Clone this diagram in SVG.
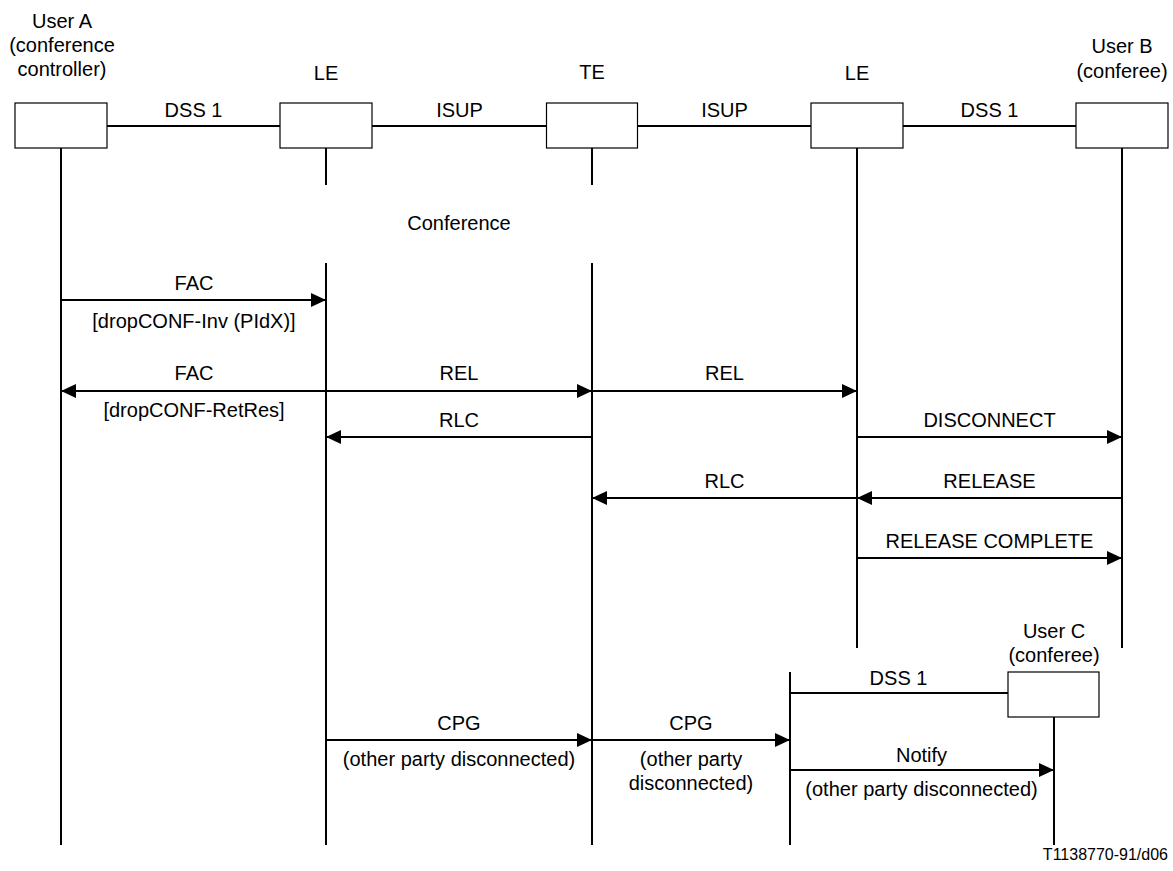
<svg xmlns="http://www.w3.org/2000/svg" width="1173" height="871" viewBox="0 0 1173 871">
<style>
text{font-family:"Liberation Sans",Arial,sans-serif;font-size:20px;fill:#000;text-anchor:middle}
.box{fill:#fff;stroke:#000;stroke-width:1.2}
.ln{stroke:#000;stroke-width:2;fill:none}
.note{font-size:16px;text-anchor:end}
</style>
<defs>
<marker id="ah" viewBox="0 0 15 14" refX="15" refY="7" markerWidth="15" markerHeight="14" markerUnits="userSpaceOnUse" orient="auto">
<path d="M0,0 L15,7 L0,14 Z" fill="#000"/>
</marker>
</defs>
<rect width="1173" height="871" fill="#fff"/>

<g id="userA">
<text x="62" y="28">User A</text>
<text x="62" y="52">(conference</text>
<text x="62" y="76">controller)</text>
<line class="ln" x1="61" y1="148" x2="61" y2="845"/>
<rect class="box" x="15" y="103" width="92" height="45"/>
</g>
<g id="le1">
<text x="326" y="80">LE</text>
<line class="ln" x1="326" y1="148" x2="326" y2="185"/>
<line class="ln" x1="326" y1="263" x2="326" y2="845"/>
<rect class="box" x="280" y="103" width="92" height="45"/>
</g>
<g id="te">
<text x="592" y="79">TE</text>
<line class="ln" x1="592" y1="148" x2="592" y2="185"/>
<line class="ln" x1="592" y1="263" x2="592" y2="845"/>
<rect class="box" x="546.5" y="103" width="91" height="45"/>
</g>
<g id="le2">
<text x="857" y="80">LE</text>
<line class="ln" x1="857" y1="148" x2="857" y2="648"/>
<rect class="box" x="811" y="103" width="92" height="45"/>
</g>
<g id="userB">
<text x="1122" y="53">User B</text>
<text x="1122" y="78">(conferee)</text>
<line class="ln" x1="1122" y1="148" x2="1122" y2="648"/>
<rect class="box" x="1076" y="103" width="92" height="45"/>
</g>
<g id="le3">
<line class="ln" x1="790" y1="672" x2="790" y2="845"/>
</g>
<g id="userC">
<text x="1054" y="638">User C</text>
<text x="1054" y="662">(conferee)</text>
<line class="ln" x1="1054" y1="717" x2="1054" y2="845"/>
<rect class="box" x="1008" y="672" width="91" height="45"/>
</g>

<g id="connectors">
<line class="ln" x1="107" y1="126" x2="280" y2="126"/>
<line class="ln" x1="372" y1="126" x2="546.5" y2="126"/>
<line class="ln" x1="637.5" y1="126" x2="811" y2="126"/>
<line class="ln" x1="903" y1="126" x2="1076" y2="126"/>
<line class="ln" x1="790" y1="693" x2="1008" y2="693"/>

<line class="ln" x1="61" y1="300" x2="326" y2="300" marker-end="url(#ah)"/>
<line class="ln" x1="326" y1="391" x2="61" y2="391" marker-end="url(#ah)"/>
<line class="ln" x1="326" y1="391" x2="592" y2="391" marker-end="url(#ah)"/>
<line class="ln" x1="592" y1="391" x2="857" y2="391" marker-end="url(#ah)"/>
<line class="ln" x1="592" y1="437" x2="326" y2="437" marker-end="url(#ah)"/>
<line class="ln" x1="857" y1="437" x2="1122" y2="437" marker-end="url(#ah)"/>
<line class="ln" x1="857" y1="498" x2="592" y2="498" marker-end="url(#ah)"/>
<line class="ln" x1="1122" y1="498" x2="857" y2="498" marker-end="url(#ah)"/>
<line class="ln" x1="857" y1="558" x2="1122" y2="558" marker-end="url(#ah)"/>
<line class="ln" x1="326" y1="740" x2="592" y2="740" marker-end="url(#ah)"/>
<line class="ln" x1="592" y1="740" x2="790" y2="740" marker-end="url(#ah)"/>
<line class="ln" x1="790" y1="770" x2="1054" y2="770" marker-end="url(#ah)"/>
</g>

<g id="labels">
<text x="193.5" y="117">DSS 1</text>
<text x="459.5" y="117">ISUP</text>
<text x="724.5" y="117">ISUP</text>
<text x="989.5" y="117">DSS 1</text>
<text x="459" y="230">Conference</text>
<text x="194" y="290">FAC</text>
<text x="194" y="328">[dropCONF-Inv (PIdX)]</text>
<text x="194" y="380">FAC</text>
<text x="194" y="417">[dropCONF-RetRes]</text>
<text x="459" y="380">REL</text>
<text x="724.5" y="380">REL</text>
<text x="459" y="427">RLC</text>
<text x="989.5" y="427">DISCONNECT</text>
<text x="724.5" y="488">RLC</text>
<text x="989.5" y="488">RELEASE</text>
<text x="989.5" y="548">RELEASE COMPLETE</text>
<text x="898.5" y="685">DSS 1</text>
<text x="459" y="730">CPG</text>
<text x="459" y="766">(other party disconnected)</text>
<text x="691" y="730">CPG</text>
<text x="691" y="766">(other party</text>
<text x="691" y="790">disconnected)</text>
<text x="921.5" y="762">Notify</text>
<text x="921.5" y="796">(other party disconnected)</text>
<text class="note" x="1168" y="860">T1138770-91/d06</text>
</g>
</svg>
